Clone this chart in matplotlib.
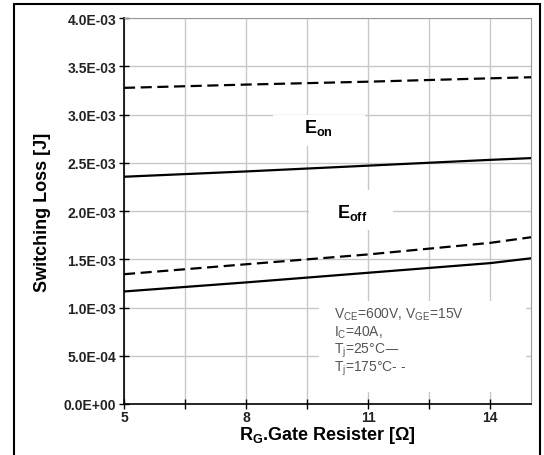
import matplotlib
matplotlib.use("Agg")
import matplotlib.pyplot as plt
import matplotlib.patches as patches
from matplotlib.ticker import FuncFormatter, MultipleLocator, FixedLocator

plt.rcParams['font.family'] = ['Liberation Sans', 'DejaVu Sans']

# data
rg = [5, 8, 11, 14, 15]
eon_25 = [2.355e-3, 2.41e-3, 2.47e-3, 2.53e-3, 2.548e-3]
eon_175 = [3.276e-3, 3.31e-3, 3.34e-3, 3.375e-3, 3.386e-3]
eoff_25 = [1.166e-3, 1.26e-3, 1.36e-3, 1.46e-3, 1.51e-3]
eoff_175 = [1.345e-3, 1.448e-3, 1.55e-3, 1.67e-3, 1.728e-3]

major_x = [5, 8, 11, 14]
minor_x = [6.5, 9.5, 12.5]

note_lines = [r'V$_{\mathregular{CE}}$=600V, V$_{\mathregular{GE}}$=15V',
              r'I$_{\mathregular{C}}$=40A,',
              r'T$_{\mathregular{j}}$=25°C—',
              r'T$_{\mathregular{j}}$=175°C- -']

fig = plt.figure(figsize=(5.44, 4.56), dpi=100)
ax = fig.add_axes([124/544, 1-405/456, 407/544, 386/456])

# outer frame
fig.patches.append(patches.Rectangle((14/544, -0.05), 526/544, 1.05-5/456,
                                     transform=fig.transFigure, fill=False,
                                     edgecolor='black', linewidth=1.5))

dash = (0, (5, 2.5))
ax.plot(rg, eon_25, color='black', lw=1.6, zorder=3)
ax.plot(rg, eon_175, color='black', lw=1.6, ls=dash, zorder=3)
ax.plot(rg, eoff_25, color='black', lw=1.6, zorder=3)
ax.plot(rg, eoff_175, color='black', lw=1.6, ls=dash, zorder=3)

ax.set_xlim(5, 15)
ax.set_ylim(0, 4e-3)
ax.xaxis.set_major_locator(FixedLocator(major_x))
ax.xaxis.set_minor_locator(FixedLocator(minor_x))
ax.yaxis.set_major_locator(MultipleLocator(0.5e-3))
ax.yaxis.set_major_formatter(FuncFormatter(lambda v, p: f"{v:.1E}"))
ax.grid(True, which='both', axis='x', color='#c8c8c8', lw=1)
ax.grid(True, which='major', axis='y', color='#c8c8c8', lw=1)
ax.set_axisbelow(True)
ax.tick_params(which='both', direction='inout', length=7, width=1, labelsize=10)
ax.tick_params(axis='y', pad=2)
ax.tick_params(axis='x', pad=1)
for lab in ax.get_xticklabels() + ax.get_yticklabels():
    lab.set_fontweight('bold')
    lab.set_color('#222222')
for s in ['top', 'right']:
    ax.spines[s].set_color('#999999')
for s in ['left', 'bottom']:
    ax.spines[s].set_linewidth(1.2)

ax.set_ylabel('Switching Loss [J]', fontsize=13, fontweight='bold', labelpad=9)
ax.set_xlabel(r'R$_{\mathregular{G}}$.Gate Resister [Ω]', fontsize=13,
              fontweight='bold', labelpad=0)

# white boxes behind labels
for (x0, y0, w, h) in [(8.66, 2.67e-3, 2.26, 0.33e-3), (9.55, 1.8e-3, 2.05, 0.42e-3),
                       (9.8, 0.12e-3, 5.08, 0.95e-3)]:
    ax.add_patch(patches.Rectangle((x0, y0), w, h, facecolor='white',
                                   edgecolor='none', zorder=1))

ax.text(9.77, 2.87e-3, r'E$_{\mathregular{on}}$', fontsize=13, fontweight='bold',
        ha='center', va='center', zorder=4)
ax.text(10.6, 1.99e-3, r'E$_{\mathregular{off}}$', fontsize=13, fontweight='bold',
        ha='center', va='center', zorder=4)

for i, t in enumerate(note_lines):
    ax.text(10.15, 0.93e-3 - i * 0.185e-3, t, fontsize=10, color='#555555',
            ha='left', va='center', zorder=4)

fig.savefig('out.png', dpi=100)
